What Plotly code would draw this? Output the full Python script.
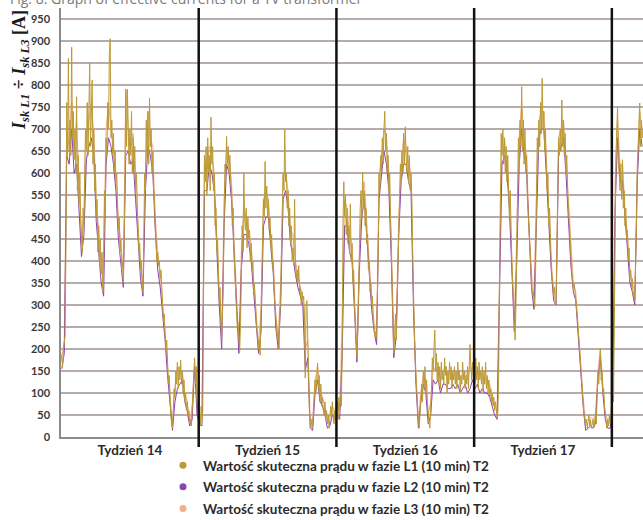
import numpy as np
import plotly.graph_objects as go

# RMS phase currents of transformer T2, hours counted from the start of week 14
WEEK_LABELS = ["Tydzień 14", "Tydzień 15", "Tydzień 16", "Tydzień 17"]
WEEK_CENTERS = [84, 252, 420, 588]
WEEK_BOUNDS = [168, 336, 504, 672]

# L1, hourly readings (one row per day, 00:00 ... 23:00)
L1_VALUES = [
    # week 14
    190, 170, 160, 200, 215, 230, 420, 760, 640, 860, 650, 720, 640, 886, 680, 740, 630, 700, 600, 773, 560, 640, 530, 600,
    500, 450, 420, 520, 480, 620, 700, 650, 760, 640, 720, 850, 660, 740, 811, 620, 700, 560, 620, 500, 540, 420, 480, 390,
    450, 370, 420, 330, 400, 560, 520, 680, 640, 760, 700, 872, 905, 680, 720, 640, 690, 600, 650, 580, 600, 520, 470, 500,
    420, 450, 380, 400, 350, 450, 560, 790, 660, 790, 700, 620, 700, 640, 740, 600, 680, 610, 660, 560, 600, 500, 470, 420,
    440, 380, 400, 340, 330, 450, 600, 560, 720, 640, 740, 620, 770, 660, 700, 600, 650, 560, 540, 480, 420, 400, 420, 390,
    400, 360, 380, 320, 300, 260, 280, 230, 200, 220, 160, 120, 140, 80, 50, 30, 20, 60, 110, 90, 150, 120, 170, 110,
    160, 130, 175, 120, 150, 100, 130, 80, 100, 60, 80, 45, 60, 30, 40, 25, 60, 90, 140, 180, 120, 160, 80, 50,
    # week 15
    30, 60, 25, 70, 40, 60, 380, 640, 580, 660, 550, 680, 600, 640, 560, 727, 620, 660, 560, 600, 480, 520, 420, 450,
    380, 310, 340, 260, 220, 280, 340, 500, 620, 600, 683, 620, 660, 600, 640, 580, 560, 480, 520, 420, 380, 330, 300, 250,
    260, 210, 195, 260, 400, 480, 420, 600, 500, 470, 520, 430, 500, 450, 470, 400, 440, 380, 400, 330, 350, 290, 270, 240,
    230, 200, 220, 186, 260, 380, 460, 540, 500, 626, 520, 570, 500, 540, 470, 500, 430, 460, 380, 400, 330, 300, 260, 230,
    220, 240, 201, 280, 320, 420, 520, 600, 560, 700, 580, 600, 520, 560, 480, 520, 440, 480, 400, 430, 390, 540, 400, 360,
    380, 350, 390, 330, 340, 300, 330, 310, 320, 280, 134, 300, 310, 200, 120, 60, 30, 20, 40, 25, 60, 90, 130, 100,
    150, 168, 110, 140, 80, 120, 70, 90, 60, 50, 80, 40, 60, 30, 50, 20, 40, 70, 45, 80, 50, 30, 60, 40,
    # week 16
    50, 80, 40, 90, 60, 100, 70, 200, 480, 580, 500, 550, 460, 520, 440, 480, 420, 530, 400, 440, 350, 380, 300, 260,
    220, 182, 240, 300, 410, 520, 560, 500, 602, 520, 560, 480, 520, 440, 460, 380, 400, 330, 350, 300, 320, 260, 250, 227,
    240, 227, 300, 420, 600, 560, 640, 600, 680, 620, 700, 740, 650, 690, 600, 640, 560, 600, 500, 420, 340, 260, 190, 230,
    280, 220, 300, 380, 480, 560, 620, 580, 650, 600, 690, 620, 705, 640, 600, 660, 580, 640, 560, 600, 540, 420, 300, 240,
    180, 140, 100, 60, 30, 20, 50, 90, 120, 80, 150, 110, 160, 100, 130, 80, 50, 30, 20, 60, 110, 180, 150, 200,
    243, 150, 190, 130, 170, 120, 160, 110, 170, 130, 150, 120, 180, 140, 160, 100, 150, 120, 170, 130, 160, 110, 150, 130,
    160, 120, 150, 110, 170, 130, 150, 100, 140, 120, 170, 130, 150, 110, 140, 120, 160, 110, 150, 210, 160, 130, 170, 140,
    # week 17
    150, 120, 180, 130, 160, 110, 170, 130, 150, 120, 160, 100, 150, 120, 170, 110, 140, 100, 130, 90, 110, 80, 100, 70,
    90, 60, 80, 50, 45, 60, 150, 380, 600, 690, 640, 700, 620, 680, 600, 660, 580, 640, 560, 500, 560, 440, 400, 350,
    300, 260, 220, 300, 420, 600, 680, 620, 720, 660, 796, 650, 720, 620, 700, 600, 640, 540, 500, 450, 420, 380, 350, 320,
    330, 310, 296, 380, 520, 680, 640, 720, 660, 760, 690, 815, 700, 740, 650, 700, 620, 560, 600, 480, 520, 420, 400, 360,
    350, 320, 340, 300, 310, 420, 560, 680, 640, 700, 650, 766, 660, 720, 640, 690, 600, 640, 560, 520, 480, 440, 400, 380,
    360, 340, 350, 330, 318, 300, 270, 240, 220, 190, 160, 130, 100, 80, 50, 40, 25, 40, 20, 35, 50, 25, 40, 20,
    30, 40, 20, 35, 50, 30, 100, 150, 120, 170, 202, 130, 150, 100, 110, 70, 50, 30, 20, 40, 25, 50, 30, 45,
    # week 18 (start)
    60, 100, 80, 250, 560, 640, 700, 750, 620, 600, 560, 620, 540, 630, 520, 560, 480, 520, 450, 470, 400, 430, 360, 380,
    340, 360, 320, 330, 311, 380, 480, 600, 650, 700, 759, 660, 720, 680, 700,
]

# L2 and L3, readings every 3 h (01:00, 04:00, ... 22:00 for each day)
L2_VALUES = [
    # week 14
    155, 190, 640, 620, 700, 600, 620, 500,
    410, 460, 630, 660, 680, 640, 490, 420,
    350, 320, 620, 680, 660, 620, 560, 450,
    400, 340, 640, 650, 620, 630, 540, 440,
    360, 320, 560, 660, 640, 600, 470, 380,
    340, 280, 220, 140, 70, 15, 80, 110,
    120, 130, 80, 60, 25, 40, 160, 50,
    # week 15
    30, 25, 560, 560, 620, 600, 560, 420,
    300, 200, 480, 620, 600, 540, 420, 290,
    190, 380, 460, 460, 440, 400, 330, 260,
    190, 240, 480, 500, 500, 430, 370, 250,
    200, 300, 540, 560, 520, 440, 410, 370,
    340, 320, 300, 150, 180, 20, 15, 100,
    130, 80, 70, 50, 20, 25, 50, 40,
    # week 16
    50, 40, 180, 480, 480, 420, 400, 290,
    170, 380, 500, 540, 460, 380, 290, 240,
    210, 540, 600, 650, 620, 560, 400, 180,
    230, 460, 580, 620, 620, 580, 560, 290,
    120, 20, 80, 120, 100, 30, 50, 130,
    120, 130, 100, 120, 120, 110, 110, 120,
    110, 120, 100, 110, 120, 100, 110, 130,
    # week 17
    110, 120, 100, 110, 100, 100, 90, 70,
    50, 40, 340, 620, 640, 600, 520, 380,
    240, 400, 620, 700, 640, 600, 460, 340,
    290, 500, 680, 700, 700, 600, 480, 380,
    310, 300, 640, 660, 680, 600, 500, 390,
    330, 310, 230, 150, 70, 15, 20, 25,
    20, 30, 130, 180, 100, 40, 20, 20,
    # week 18 (start)
    80, 520, 680, 580, 580, 500, 440, 350,
    330, 300, 580, 700, 660,
]

L3_VALUES = [
    # week 14
    180, 220, 700, 660, 760, 650, 720, 560,
    440, 500, 680, 720, 760, 690, 540, 470,
    380, 420, 700, 760, 700, 660, 600, 500,
    430, 380, 790, 700, 660, 690, 580, 480,
    390, 350, 600, 740, 680, 660, 500, 420,
    360, 300, 240, 160, 90, 30, 110, 160,
    140, 150, 100, 80, 35, 70, 170, 80,
    # week 15
    50, 50, 620, 600, 660, 640, 600, 460,
    330, 230, 540, 660, 640, 580, 450, 320,
    210, 420, 520, 500, 470, 440, 360, 280,
    210, 290, 540, 560, 540, 460, 400, 280,
    230, 350, 600, 600, 560, 470, 460, 400,
    370, 340, 320, 200, 220, 40, 40, 130,
    160, 110, 90, 70, 40, 50, 70, 60,
    # week 16
    80, 70, 260, 540, 520, 460, 440, 320,
    200, 420, 540, 580, 480, 400, 320, 260,
    240, 590, 640, 700, 680, 600, 440, 220,
    260, 500, 620, 680, 660, 620, 600, 320,
    140, 40, 100, 140, 120, 50, 80, 160,
    150, 160, 130, 150, 160, 140, 150, 140,
    140, 150, 130, 140, 150, 130, 160, 150,
    # week 17
    140, 150, 140, 140, 130, 130, 120, 100,
    70, 60, 420, 680, 680, 620, 540, 420,
    270, 460, 680, 760, 680, 640, 480, 370,
    320, 560, 720, 740, 740, 640, 520, 400,
    330, 330, 680, 700, 720, 640, 540, 420,
    350, 330, 250, 170, 90, 35, 40, 45,
    40, 50, 150, 200, 120, 50, 40, 40,
    # week 18 (start)
    100, 580, 720, 620, 620, 520, 460, 380,
    350, 330, 620, 740, 700,
]

SERIES_NAMES = [
    "Wartość skuteczna prądu w fazie L1 (10 min) T2",
    "Wartość skuteczna prądu w fazie L2 (10 min) T2",
    "Wartość skuteczna prądu w fazie L3 (10 min) T2",
]
COLORS = ["#BC9A34", "#8C45AA", "#F2B184"]

t_l1 = np.arange(len(L1_VALUES))
t_l23 = 1 + np.arange(len(L2_VALUES)) * 3

fig = go.Figure()

# L3 and L2 underneath, L1 on top
fig.add_trace(go.Scatter(x=t_l23, y=L3_VALUES, mode="lines",
                         line=dict(color=COLORS[2], width=1), showlegend=False))
fig.add_trace(go.Scatter(x=t_l23, y=L2_VALUES, mode="lines",
                         line=dict(color=COLORS[1], width=1), showlegend=False))
fig.add_trace(go.Scatter(x=t_l1, y=L1_VALUES, mode="lines",
                         line=dict(color=COLORS[0], width=1), showlegend=False))

# legend entries with round markers
for i, (name, col) in enumerate(zip(SERIES_NAMES, COLORS)):
    fig.add_trace(go.Scatter(x=[None], y=[None], mode="markers", name=name,
                             legendgroup=f"g{i}",
                             marker=dict(color=col, size=7, symbol="circle")))

plot_h = 429
# week separators, running a little below the category axis
for b in WEEK_BOUNDS:
    fig.add_shape(type="line", xref="x", yref="paper", x0=b, x1=b,
                  y0=-10 / plot_h, y1=1, line=dict(color="#111111", width=2.5))

fig.update_layout(
    width=643, height=520,
    margin=dict(l=61, r=0, t=8, b=83, autoexpand=False),
    paper_bgcolor="white", plot_bgcolor="white",
    font=dict(family="Lato", color="#333333"),
    xaxis=dict(range=[0, 710], showgrid=False, zeroline=False,
               showline=True, linecolor="#8c8c8c", linewidth=1.5,
               tickvals=WEEK_CENTERS, ticktext=WEEK_LABELS, ticks="",
               tickfont=dict(family="Lato", size=13.5, color="#2b2b2b", weight="bold"),
               ticklabelstandoff=0),
    yaxis=dict(range=[0, 975], tickvals=list(range(0, 951, 50)),
               showgrid=True, gridcolor="#b7aca9", gridwidth=1.5,
               zeroline=False, showline=True, linecolor="#8c8c8c", linewidth=1.5,
               ticks="", ticklabelstandoff=7,
               tickfont=dict(family="Lato", size=11, color="#3a3a3a", weight="bold")),
    legend=dict(x=(163 - 61) / 582, xanchor="left",
                y=-(450 - 437) / plot_h, yanchor="top",
                orientation="v", tracegroupgap=1,
                font=dict(family="Lato", size=13.5, color="#2b2b2b", weight="bold"),
                bgcolor="rgba(0,0,0,0)"),
)

# vertical axis title
fig.add_annotation(
    xref="paper", yref="paper", x=(20 - 61) / 582, y=(437 - 70) / plot_h,
    text="<b><i>I</i><sub><i>sk L1</i></sub> ÷ <i>I</i><sub><i>sk L3</i></sub> [A]</b>",
    textangle=-90, showarrow=False, xanchor="center", yanchor="middle",
    font=dict(family="Liberation Serif", size=18, color="#1a1a1a"),
)

# figure caption above the chart
fig.add_annotation(
    xref="paper", yref="paper", x=(8 - 61) / 582, y=1 + 9 / plot_h,
    text="Fig. 8. Graph of effective currents for a TV transformer",
    showarrow=False, xanchor="left", yanchor="middle",
    font=dict(family="Open Sans", size=14, color="#7a7a7a"),
)

fig.write_html("out.html")
